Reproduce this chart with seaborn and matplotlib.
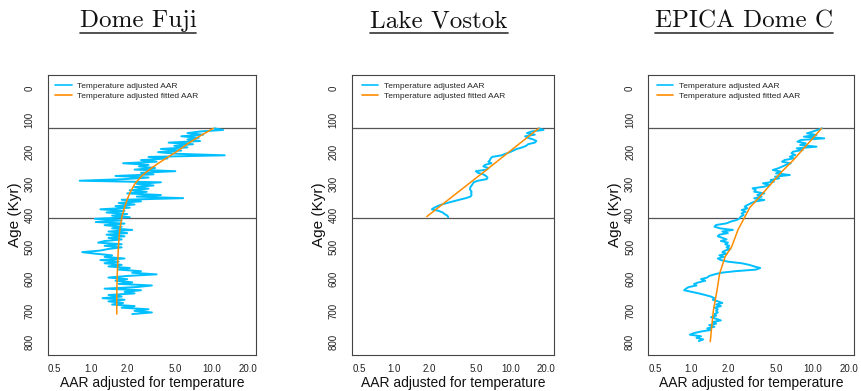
import numpy as np
import pandas as pd
import matplotlib
matplotlib.use("Agg")
import matplotlib.pyplot as plt
import seaborn as sns
from matplotlib.lines import Line2D
from matplotlib.ticker import NullLocator

sns.set_style("white")
plt.rcParams["font.family"] = ["Liberation Sans", "DejaVu Sans"]

# ---------------- data ----------------
titles = ["Dome Fuji", "Lake Vostok", "EPICA Dome C"]
legend_labels = ["Temperature adjusted AAR", "Temperature adjusted fitted AAR"]
x_ticks = [0.5, 1, 2, 5, 10, 20]
x_tick_labels = ["0.5", "1.0", "2.0", "5.0", "10.0", "20.0"]
y_ticks = [0, 100, 200, 300, 400, 500, 600, 700, 800]
boundaries = [126, 410]

# Dome Fuji: ages start 126 kyr, every 5 kyr
fuji_age_start, fuji_age_step = 126, 5
fuji_aar = [10.5, 12.4, 8.0, 6.3, 8.5, 5.6, 7.8, 6.3, 8.0, 4.4,
            7.0, 4.9, 6.3, 3.8, 5.6, 3.6, 5.0, 12.8, 3.0, 4.3,
            2.6, 3.5, 1.85, 3.0, 2.5, 3.4, 2.3, 5.0, 2.6, 3.3,
            1.6, 3.0, 1.9, 0.81, 3.8, 2.4, 3.3, 2.3, 3.0, 2.1,
            2.9, 2.0, 3.8, 2.4, 5.8, 1.8, 2.6, 1.7, 2.3, 1.6,
            2.1, 1.2, 1.9, 1.35, 2.0, 1.5, 2.1, 1.08, 1.8, 1.1,
            1.9, 1.3, 1.8, 1.5, 2.2, 1.4, 2.0, 1.35, 1.9, 1.4,
            1.8, 1.3, 1.15, 1.8, 1.3, 1.8, 1.4, 1.2, 0.85, 1.1,
            1.5, 1.3, 1.9, 1.2, 1.7, 1.3, 1.8, 1.4, 2.1, 1.7,
            2.6, 2.2, 3.5, 2.0, 1.4, 2.0, 1.6, 2.2, 1.7, 3.2,
            2.4, 1.3, 2.6, 1.9, 2.3, 1.4, 1.8, 1.25, 1.9, 1.4,
            1.85, 1.5, 2.3, 1.8, 3.0, 2.3, 3.2, 2.2]
fuji_fit_age = [126, 150, 175, 200, 225, 250, 275, 300, 325, 350, 375, 400,
                425, 450, 500, 550, 600, 650, 711]
fuji_fit_aar = [10.3, 8.0, 6.3, 5.1, 4.0, 3.2, 2.65, 2.32, 2.13, 2.0, 1.9, 1.82,
                1.77, 1.73, 1.69, 1.67, 1.65, 1.64, 1.64]

# Lake Vostok: ages start 126 kyr, every 5 kyr
vostok_age_start, vostok_age_step = 126, 5
vostok_aar = [17.2, 19.0, 15.0, 13.7, 16.0, 13.2, 14.0, 15.5, 16.5, 16.0,
              14.0, 13.5, 12.5, 11.2, 10.5, 9.8, 9.0, 8.3, 6.9, 6.7,
              6.6, 6.4, 6.8, 6.0, 5.8, 6.4, 6.2, 5.0, 5.2, 5.8,
              6.1, 6.3, 6.2, 5.2, 4.8, 4.7, 4.6, 4.5, 4.45, 4.5,
              4.6, 4.55, 4.6, 4.5, 4.1, 3.6, 3.2, 2.85, 2.55, 2.35,
              2.2, 2.1, 2.4, 2.6, 2.7, 2.85, 2.9]
vostok_fit_age = [126, 266, 404]
vostok_fit_aar = [17.3, 5.73, 1.9]

# EPICA Dome C: two stretches of the record
epica_a_age_start, epica_a_age_step = 126, 5.25
epica_a_aar = [12.0, 11.0, 10.0, 9.0, 10.8, 8.5, 12.5, 8.0, 7.5, 8.8,
               7.9, 10.8, 7.4, 8.3, 6.9, 6.7, 7.2, 6.5, 7.0, 5.9,
               5.6, 6.6, 6.0, 5.6, 5.2, 4.7, 5.5, 5.0, 6.5, 4.9,
               5.3, 4.5, 4.8, 3.9, 4.4, 4.0, 3.2, 3.4, 3.3, 4.0,
               3.5, 3.8, 3.3, 4.0, 3.3, 3.1, 2.9, 2.75, 2.9, 2.6,
               2.8, 2.6, 2.7, 2.55, 2.5, 2.36, 2.1, 1.95, 1.6, 1.55,
               1.72]
epica_b_age_start, epica_b_age_step = 446, 5
epica_b_aar = [2.2, 1.8, 2.0, 1.7, 1.65, 1.8, 1.95, 1.75, 2.0, 1.9,
               2.05, 1.95, 2.1, 1.9, 1.8, 1.95, 1.7, 1.85, 1.65, 1.75,
               2.0, 2.6, 3.0, 3.3, 3.7, 3.4, 2.3, 1.75, 1.55, 1.4,
               1.35, 1.2, 1.3, 1.15, 1.05, 1.1, 0.95, 0.9, 0.87, 1.0,
               1.15, 1.3, 1.45, 1.55, 1.5, 1.65, 1.8, 1.6, 1.75, 1.55,
               1.65, 1.6, 1.65, 1.55, 1.6, 1.45, 1.6, 1.75, 1.5, 1.6,
               1.4, 1.55, 1.35, 1.45, 1.2, 1.05, 0.97, 1.2, 1.1, 1.25,
               1.15]
epica_fit_age = [126, 168, 226, 263, 305, 341, 375, 404, 446, 499, 530, 583,
                 640, 698, 751, 798]
epica_fit_aar = [11.9, 9.5, 6.94, 5.56, 4.45, 3.68, 3.04, 2.77, 2.42, 2.15,
                 1.9, 1.71, 1.62, 1.52, 1.47, 1.43]


def grid(start, step, n):
    return start + step * np.arange(n)


fuji_age = grid(fuji_age_start, fuji_age_step, len(fuji_aar))
vostok_age = grid(vostok_age_start, vostok_age_step, len(vostok_aar))
epica_age = np.concatenate([grid(epica_a_age_start, epica_a_age_step, len(epica_a_aar)),
                            grid(epica_b_age_start, epica_b_age_step, len(epica_b_aar))])
epica_aar = list(epica_a_aar) + list(epica_b_aar)

panels = [
    (fuji_age, fuji_aar, fuji_fit_age, fuji_fit_aar),
    (vostok_age, vostok_aar, vostok_fit_age, vostok_fit_aar),
    (epica_age, epica_aar, epica_fit_age, epica_fit_aar),
]

# ---------------- layout ----------------
W, H = 862, 391
BLUE = "#00BFFF"
ORANGE = "#FF8C00"
FRAME = "#444444"

fig = plt.figure(figsize=(W / 100, H / 100), dpi=100)
# axes boxes in pixels: left, right
boxes = [(48, 256), (351.7, 554.3), (648.3, 853.7)]
xlims = [(0.443, 23.2), (0.432, 23.5), (0.44, 21.9)]
legend_dx = [7, 10, 8.4]
title_cx = [138, 439, 744]
top_px, bot_px = 75, 355

for i, ((age, aar, fage, faar), (l, r)) in enumerate(zip(panels, boxes)):
    ax = fig.add_axes([l / W, 1 - bot_px / H, (r - l) / W, (bot_px - top_px) / H])
    df = pd.DataFrame({"age": age, "aar": aar})
    dff = pd.DataFrame({"age": fage, "aar": faar})
    sns.lineplot(data=df, x="aar", y="age", sort=False, estimator=None,
                 color=BLUE, lw=1.4, ax=ax)
    sns.lineplot(data=dff, x="aar", y="age", sort=False, estimator=None,
                 color=ORANGE, lw=1.1, ax=ax)
    for b in boundaries:
        ax.axhline(b, color="#555555", lw=0.9, zorder=1)
    ax.set_xscale("log")
    ax.set_xlim(*xlims[i])
    ax.set_ylim(840, -42)
    ax.set_xticks(x_ticks)
    ax.set_xticklabels(x_tick_labels)
    ax.xaxis.set_minor_locator(NullLocator())
    ax.set_yticks(y_ticks)
    ax.set_yticklabels([str(v) for v in y_ticks], rotation=90, va="center")
    ax.tick_params(axis="both", direction="out", length=4, width=0.8,
                   color=FRAME, labelsize=7, labelcolor="#222222")
    ax.tick_params(axis="y", pad=5.5)
    ax.tick_params(axis="x", pad=2.5)
    for s in ax.spines.values():
        s.set_visible(True)
        s.set_color(FRAME)
        s.set_linewidth(0.8)
    wpx = r - l
    ax.set_xlabel("AAR adjusted for temperature", fontsize=10, color="#111111")
    ax.xaxis.set_label_coords(0.5, -(383 - bot_px) / (bot_px - top_px))
    ax.xaxis.label.set_va("center")
    ax.set_ylabel("Age (Kyr)", fontsize=11, color="#111111")
    ax.yaxis.set_label_coords(-33 / wpx, 0.5)
    ax.yaxis.label.set_va("center")
    handles = [Line2D([], [], color=BLUE, lw=1.2), Line2D([], [], color=ORANGE, lw=1.2)]
    ax.legend(handles, legend_labels, loc="upper left",
              bbox_to_anchor=(legend_dx[i] / wpx, 1 - 7 / (bot_px - top_px)),
              frameon=False, fontsize=6, handlelength=2.0, handletextpad=0.7,
              labelspacing=0.3, borderaxespad=0, borderpad=0)

# titles with underline
texts = []
for t, cx in zip(titles, title_cx):
    texts.append(fig.text(cx / W, 1 - 27 / H, t, family="cmr10", fontsize=18,
                          ha="center", va="baseline", color="#111111"))
fig.canvas.draw()
for t in texts:
    bb = t.get_window_extent()
    yl = 1 - 32.5 / H
    fig.add_artist(Line2D([bb.x0 / W, bb.x1 / W], [yl, yl], transform=fig.transFigure,
                          color="#333333", lw=1.2))

fig.savefig("out.png", dpi=100)
